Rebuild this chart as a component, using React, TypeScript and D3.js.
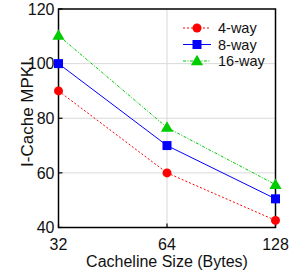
import React from "react";
import * as d3 from "d3";

const sizes = [32, 64, 128];
const fourWay = [90, 60, 42.6];
const eightWay = [100, 70, 50.5];
const sixteenWay = [110.3, 76.6, 55.7];
const yTicks = [40, 60, 80, 100, 120];
const gridY = [60, 80, 100];

const series = [
  { name: "4-way", values: fourWay, color: "#ff0000", dash: "2,2", marker: "circle" },
  { name: "8-way", values: eightWay, color: "#0000ff", dash: "", marker: "square" },
  { name: "16-way", values: sixteenWay, color: "#00cc00", dash: "3,1.5,1,1.5", marker: "triangle" },
];

const W = 294;
const H = 275;
const m = { left: 58.5, right: 18.5, top: 9, bottom: 47.5 };

function Marker({ type, x, y, color }: { type: string; x: number; y: number; color: string }) {
  if (type === "circle") return <circle cx={x} cy={y} r={4.5} fill={color} />;
  if (type === "square") return <rect x={x - 4.5} y={y - 4.5} width={9} height={9} fill={color} />;
  return <path d={d3.symbol(d3.symbolTriangle, 64)() || ""} transform={`translate(${x},${y + 0.8})`} fill={color} />;
}

export default function App() {
  const x = d3.scaleLog().base(2).domain([32, 128]).range([m.left, W - m.right]);
  const y = d3.scaleLinear().domain([40, 120]).range([H - m.bottom, m.top]);
  const line = d3
    .line<number>()
    .x((_, i) => x(sizes[i]))
    .y((d) => y(d));
  const font = "'Liberation Sans', Arial, Helvetica, sans-serif";

  return (
    <svg width={W} height={H} style={{ position: "absolute", left: 0, top: 0 }} fontFamily={font}>
      {gridY.map((v) => (
        <line key={v} x1={m.left} x2={W - m.right} y1={y(v)} y2={y(v)} stroke="#d9d9d9" strokeWidth={1} />
      ))}
      <line x1={x(64)} x2={x(64)} y1={m.top} y2={H - m.bottom} stroke="#d9d9d9" strokeWidth={1} />

      {series.map((s) => (
        <g key={s.name}>
          <path d={line(s.values) || ""} fill="none" stroke={s.color} strokeWidth={1} strokeDasharray={s.dash} />
        </g>
      ))}

      <rect x={m.left} y={m.top} width={W - m.left - m.right} height={H - m.top - m.bottom} fill="none" stroke="#000" strokeWidth={1.5} />
      {yTicks.map((v) => (
        <g key={v}>
          <line x1={m.left} x2={m.left + 4} y1={y(v)} y2={y(v)} stroke="#000" strokeWidth={1.2} />
          <text x={m.left - 4} y={y(v)} dy="0.36em" textAnchor="end" fontSize={16} fill="#111">
            {v}
          </text>
        </g>
      ))}
      {sizes.map((v) => (
        <g key={v}>
          <line x1={x(v)} x2={x(v)} y1={H - m.bottom} y2={H - m.bottom - 4} stroke="#000" strokeWidth={1.2} />
          <text x={x(v)} y={H - m.bottom + 22} textAnchor="middle" fontSize={16} fill="#111">
            {v}
          </text>
        </g>
      ))}

      {series.map((s) => (
        <g key={s.name}>
          {s.values.map((v, i) => (
            <Marker key={i} type={s.marker} x={x(sizes[i])} y={y(v)} color={s.color} />
          ))}
        </g>
      ))}

      {series.map((s, i) => {
        const ly = 28 + i * 16.5;
        return (
          <g key={s.name}>
            <line x1={183} x2={211} y1={ly} y2={ly} stroke={s.color} strokeWidth={1} strokeDasharray={s.dash} />
            <Marker type={s.marker} x={197} y={ly} color={s.color} />
            <text x={218} y={ly} dy="0.36em" fontSize={14.5} fill="#111">
              {s.name}
            </text>
          </g>
        );
      })}

      <text transform="translate(32.5,114) rotate(-90)" textAnchor="middle" fontSize={17} fill="#111">
        I-Cache MPKI
      </text>
      <text x={(m.left + W - m.right) / 2} y={267} textAnchor="middle" fontSize={16} fill="#111">
        Cacheline Size (Bytes)
      </text>
    </svg>
  );
}
